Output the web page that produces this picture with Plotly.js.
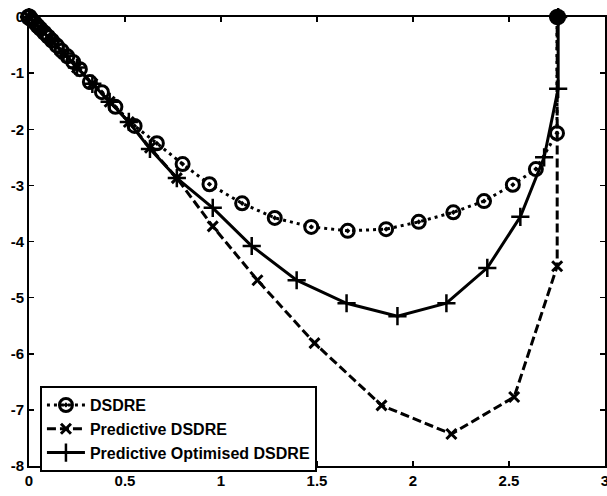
<!DOCTYPE html>
<html>
<head>
<meta charset="utf-8">
<script src="https://cdn.plot.ly/plotly-3.0.1.min.js"></script>
<style>html,body{margin:0;padding:0;background:#fff;}#chart{width:607px;height:496px;}</style>
</head>
<body>
<div id="chart"></div>
<script>
// DSDRE trajectory
const dsdreX = [0, 0.015, 0.03, 0.045, 0.06, 0.08, 0.10, 0.12, 0.145, 0.17, 0.20, 0.23, 0.265, 0.317, 0.38, 0.45, 0.55, 0.666, 0.80, 0.94, 1.11, 1.28, 1.47, 1.66, 1.86, 2.03, 2.21, 2.37, 2.52, 2.64, 2.75, 2.75];
const dsdreY = [0, -0.05, -0.10, -0.16, -0.21, -0.28, -0.35, -0.42, -0.51, -0.60, -0.70, -0.80, -0.93, -1.16, -1.34, -1.60, -1.94, -2.25, -2.62, -2.98, -3.32, -3.58, -3.74, -3.81, -3.78, -3.65, -3.48, -3.28, -2.99, -2.71, -2.07, 0];
// Predictive DSDRE trajectory
const predX = [0, 0.03, 0.07, 0.12, 0.18, 0.25, 0.33, 0.42, 0.52, 0.63, 0.77, 0.957, 1.19, 1.487, 1.836, 2.20, 2.527, 2.751, 2.751];
const predY = [0, -0.11, -0.25, -0.43, -0.65, -0.90, -1.19, -1.51, -1.87, -2.33, -2.87, -3.73, -4.69, -5.81, -6.92, -7.43, -6.77, -4.44, 0];
// Predictive Optimised DSDRE trajectory
const optX = [0, 0.03, 0.07, 0.12, 0.18, 0.25, 0.33, 0.42, 0.52, 0.63, 0.77, 0.957, 1.16, 1.394, 1.654, 1.919, 2.174, 2.387, 2.559, 2.683, 2.756, 2.756];
const optY = [0, -0.11, -0.25, -0.43, -0.65, -0.90, -1.19, -1.51, -1.87, -2.35, -2.87, -3.40, -4.08, -4.69, -5.10, -5.33, -5.10, -4.47, -3.56, -2.50, -1.28, 0];
// start and target points
const startX = [0];
const startY = [0];
const targetX = [2.756];
const targetY = [0];
// ticks
const xTickVals = [0, 0.5, 1, 1.5, 2, 2.5, 3];
const xTickText = ["0", "0.5", "1", "1.5", "2", "2.5", "3"];
const yTickVals = [0, -1, -2, -3, -4, -5, -6, -7, -8];
const yTickText = ["0", "-1", "-2", "-3", "-4", "-5", "-6", "-7", "-8"];
const seriesNames = ["DSDRE", "Predictive DSDRE", "Predictive Optimised DSDRE"];

const bold = s => '<b>' + s + '</b>';
const FONT = 'Liberation Sans, Arial, Helvetica, sans-serif';

const traces = [
  {x: dsdreX, y: dsdreY, name: bold(seriesNames[0]), mode: 'lines+markers', cliponaxis: false,
   line: {color: '#000', width: 3, dash: '3px,4px'},
   marker: {symbol: 'circle-open-dot', size: 13, color: '#000', line: {color: '#000', width: 3}}},
  {x: predX, y: predY, name: bold(seriesNames[1]), mode: 'lines+markers', cliponaxis: false,
   line: {color: '#000', width: 3, dash: '9px,4px'},
   marker: {symbol: 'x-thin', size: 10, color: '#000', line: {color: '#000', width: 3}}},
  {x: optX, y: optY, name: bold(seriesNames[2]), mode: 'lines+markers', cliponaxis: false,
   line: {color: '#000', width: 3, dash: 'solid'},
   marker: {symbol: 'cross-thin', size: 13, color: '#000', line: {color: '#000', width: 2.5}}},
  {x: startX, y: startY, mode: 'markers', showlegend: false, cliponaxis: false,
   marker: {symbol: 'circle-open', size: 14, color: '#000', line: {color: '#000', width: 3.5}}},
  {x: targetX, y: targetY, mode: 'markers', showlegend: false, cliponaxis: false,
   marker: {symbol: 'circle', size: 16, color: '#000'}}
];

const axisCommon = {
  showgrid: false, zeroline: false, showline: true, linecolor: '#000', linewidth: 2,
  mirror: 'ticks', ticks: 'inside', ticklen: 5, tickwidth: 1.5, tickcolor: '#000',
  ticklabeloverflow: 'allow',
  tickfont: {family: FONT, size: 15, color: '#000', weight: 700}
};

const layout = {
  width: 607, height: 496,
  margin: {l: 29, r: 2, t: 17, b: 30},
  paper_bgcolor: '#fff', plot_bgcolor: '#fff',
  showlegend: true,
  xaxis: Object.assign({}, axisCommon, {range: [0, 3], tickvals: xTickVals, ticktext: xTickText.map(bold)}),
  yaxis: Object.assign({}, axisCommon, {range: [-8, 0], tickvals: yTickVals, ticktext: yTickText.map(bold)}),
  legend: {
    x: 0.019, y: 0.178, xanchor: 'left', yanchor: 'top',
    bgcolor: '#fff', bordercolor: '#000', borderwidth: 2,
    font: {family: FONT, size: 16, color: '#000', weight: 700},
    itemwidth: 38, tracegroupgap: 0
  }
};

Plotly.newPlot('chart', traces, layout, {displayModeBar: false, staticPlot: true});
</script>
</body>
</html>
